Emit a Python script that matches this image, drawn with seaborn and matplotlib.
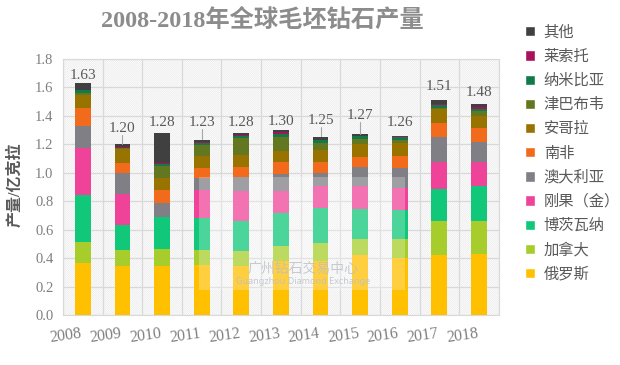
import numpy as np
import matplotlib.pyplot as plt
import matplotlib.patches as mpatches
import seaborn as sns

# 全球毛坯钻石产量 (亿克拉)
years = ["2008", "2009", "2010", "2011", "2012", "2013", "2014", "2015", "2016", "2017", "2018"]
totals = [1.63, 1.20, 1.28, 1.23, 1.28, 1.30, 1.25, 1.27, 1.26, 1.51, 1.48]

russia = [0.363, 0.344, 0.344, 0.351, 0.344, 0.379, 0.383, 0.419, 0.403, 0.424, 0.430]
canada = [0.150, 0.112, 0.119, 0.105, 0.105, 0.106, 0.120, 0.117, 0.131, 0.240, 0.232]
botswana = [0.329, 0.176, 0.227, 0.229, 0.211, 0.232, 0.247, 0.208, 0.205, 0.222, 0.246]
congo = [0.332, 0.217, 0.0, 0.192, 0.210, 0.157, 0.157, 0.160, 0.155, 0.192, 0.168]
australia = [0.152, 0.152, 0.094, 0.089, 0.101, 0.117, 0.093, 0.136, 0.136, 0.175, 0.140]
south_africa = [0.129, 0.066, 0.094, 0.068, 0.070, 0.082, 0.074, 0.072, 0.085, 0.098, 0.098]
angola = [0.094, 0.098, 0.082, 0.082, 0.082, 0.082, 0.088, 0.090, 0.092, 0.094, 0.087]
zimbabwe = [0.010, 0.006, 0.087, 0.077, 0.124, 0.098, 0.048, 0.035, 0.025, 0.012, 0.030]
namibia = [0.020, 0.006, 0.018, 0.016, 0.014, 0.020, 0.019, 0.021, 0.020, 0.019, 0.017]
lesotho = [0.005, 0.004, 0.004, 0.004, 0.005, 0.012, 0.003, 0.003, 0.003, 0.011, 0.011]
other = [0.046, 0.019, 0.211, 0.017, 0.014, 0.015, 0.018, 0.009, 0.005, 0.023, 0.021]

series_names = ["俄罗斯", "加拿大", "博茨瓦纳", "刚果（金）", "澳大利亚", "南非",
                "安哥拉", "津巴布韦", "纳米比亚", "莱索托", "其他"]
series_values = [russia, canada, botswana, congo, australia, south_africa,
                 angola, zimbabwe, namibia, lesotho, other]
series_colors = ["#ffc000", "#a6cd2b", "#11c77a", "#ef4399", "#7f7f85", "#f26a1c",
                 "#997300", "#62771f", "#117a48", "#a8125a", "#404040"]

# how far above each bar the total label sits (layout only)
label_lift = [0.054, 0.11, 0.074, 0.124, 0.074, 0.06, 0.12, 0.13, 0.094, 0.10, 0.085]

sns.set_style("white")
plt.rcParams["font.family"] = ["Liberation Serif", "Noto Sans CJK SC"]
plt.rcParams["hatch.linewidth"] = 0.4

fig = plt.figure(figsize=(6.2, 3.65), dpi=100)
ax = fig.add_axes([0.1016, 0.137, 0.703, 0.7014])

# hatched plot background
bg = mpatches.Rectangle((0, 0), 1, 1, transform=ax.transAxes, facecolor="white",
                        edgecolor="#e4e4e4", hatch="\\" * 16, lw=0, zorder=0)
ax.add_patch(bg)

bottom = np.zeros(len(years))
for name, vals, color in zip(series_names, series_values, series_colors):
    sns.barplot(x=years, y=vals, color=color, saturation=1, width=0.4, errorbar=None,
                bottom=bottom, linewidth=0, zorder=3, ax=ax)
    bottom = bottom + np.array(vals)

# total labels
for i, (t, lift) in enumerate(zip(totals, label_lift)):
    ax.text(i, t + lift, f"{t:.2f}", ha="center", va="center", fontsize=11,
            color="#595959", zorder=5)
    if lift > 0.1:
        ax.plot([i, i], [t + 0.005, t + lift - 0.045], color="#a6a6a6", lw=0.8, zorder=5)

ax.set_ylim(0, 1.8)
ax.set_xlim(-0.5, len(years) - 0.5)
ax.set_yticks(np.arange(0, 1.81, 0.2))
ax.set_yticklabels([f"{v:.1f}" for v in np.arange(0, 1.81, 0.2)])
ax.set_xticks(np.arange(-0.5, len(years), 1), minor=True)
ax.set_axisbelow(True)
ax.grid(axis="y", which="major", color="#d9d9d9", lw=0.9)
ax.grid(axis="x", which="minor", color="#d9d9d9", lw=0.9)
ax.grid(axis="x", which="major", visible=False)
for s in ax.spines.values():
    s.set_color("#d9d9d9")
ax.tick_params(axis="both", which="both", length=0)
ax.tick_params(axis="y", labelsize=10.5, labelcolor="#7f7f7f", pad=7)
ax.tick_params(axis="x", labelsize=11.5, labelcolor="#7f7f7f", pad=8)
for lab in ax.get_xticklabels():
    lab.set_rotation(8)
    lab.set_ha("right")
ax.set_xlabel("")
ax.set_ylabel("")

fig.text(0.024, 0.493, "产量/亿克拉", rotation=90, ha="center", va="center",
         fontsize=11.5, color="#595959", fontweight="bold")
fig.text(0.423, 0.943, "2008-2018年全球毛坯钻石产量", ha="center", va="center",
         fontsize=17.5, color="#8c8c8c", fontweight="bold")

# watermark
fig.patches.append(mpatches.Rectangle((0.321, 0.205), 0.332, 0.31, transform=fig.transFigure,
                                      facecolor="white", alpha=0.25, lw=0, zorder=4))
fig.text(0.489, 0.263, "广州钻石交易中心", ha="center", va="center", fontsize=10,
         color="#b9c0c8", alpha=0.8, family=["Noto Sans CJK SC"], zorder=6)
fig.text(0.489, 0.230, "Guangzhou Diamond Exchange", ha="center", va="center", fontsize=6.5,
         color="#b9c0c8", alpha=0.8, family=["Noto Sans"], zorder=6)

handles = [mpatches.Patch(facecolor=c, label=n) for n, c in zip(series_names, series_colors)]
fig.legend(handles=handles[::-1], loc="upper left", bbox_to_anchor=(0.835, 0.956),
           frameon=False, labelcolor="#595959", handlelength=0.65, borderpad=0,
           handleheight=0.65, handletextpad=0.55, labelspacing=0.47,
           prop={"family": ["Noto Sans CJK SC"], "size": 11})

fig.savefig("out.png", dpi=100)
